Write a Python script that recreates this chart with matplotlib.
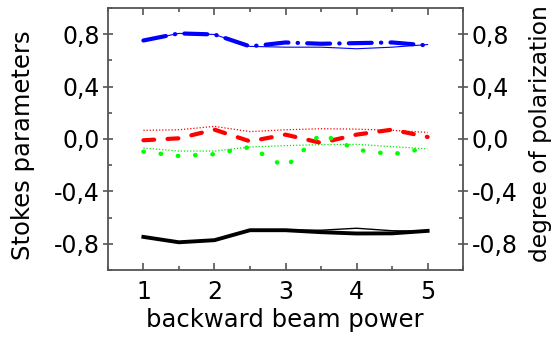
import matplotlib
matplotlib.use("Agg")
import matplotlib.pyplot as plt
from matplotlib.ticker import MultipleLocator, FuncFormatter

plt.rcParams['font.family'] = ['DejaVu Sans']

power = [1, 1.5, 2, 2.5, 3, 3.5, 4, 4.5, 5]
s1 = [0.751, 0.805, 0.797, 0.706, 0.736, 0.726, 0.731, 0.736, 0.713]
s1_thin = [0.751, 0.805, 0.797, 0.706, 0.700, 0.700, 0.688, 0.700, 0.720]
s2 = [-0.010, 0.005, 0.071, -0.018, 0.033, -0.030, 0.033, 0.071, 0.015]
s2_thin = [0.066, 0.070, 0.096, 0.056, 0.070, 0.078, 0.075, 0.066, 0.050]
s3 = [-0.097, -0.130, -0.116, -0.061, -0.215, 0.040, -0.082, -0.117, -0.069]
s3_thin = [-0.069, -0.092, -0.092, -0.061, -0.051, -0.043, -0.041, -0.058, -0.076]
s0 = [-0.747, -0.788, -0.772, -0.696, -0.696, -0.711, -0.721, -0.720, -0.701]
s0_thin = [-0.747, -0.788, -0.772, -0.696, -0.696, -0.696, -0.681, -0.700, -0.704]

FS = 17
FL = 17.5

fig = plt.figure(figsize=(5.56, 3.41), dpi=100)
ax = fig.add_axes([0.194, 0.208, 0.639, 0.769])

# thin lines
ax.plot(power, s1_thin, color='#0000ff', lw=0.8)
ax.plot(power, s2_thin, color='#ff0000', lw=0.9, ls=(0, (1, 1.5)))
ax.plot(power, s3_thin, color='#00ee00', lw=0.9, ls=(0, (1, 1.5)))
ax.plot(power, s0_thin, color='black', lw=1.0)

# thick lines
l, = ax.plot(power, s1, color='#0000ff', lw=3.0, dash_capstyle='round')
l.set_dashes((5.5, 2.2, 0.1, 2.2))
l, = ax.plot(power, s2, color='#ff0000', lw=3.0, dash_capstyle='round')
l.set_dashes((2.6, 3.2))
l, = ax.plot(power, s3, color='#00ff00', lw=3.2, dash_capstyle='round')
l.set_dashes((0.1, 3.8))
ax.plot(power, s0, color='black', lw=2.8, solid_joinstyle='round')

ax.set_xlim(0.5, 5.5)
ax.set_ylim(-1.0, 1.0)
ax.xaxis.set_major_locator(MultipleLocator(1))
ax.xaxis.set_minor_locator(MultipleLocator(0.5))
ax.yaxis.set_minor_locator(MultipleLocator(0.2))
ax.set_yticks([-0.8, -0.4, 0.0, 0.4, 0.8])
fmt = FuncFormatter(lambda v, p: ('%.1f' % v).replace('.', ',').replace('-0,0', '0,0'))
ax.yaxis.set_major_formatter(fmt)

spine_color = '#555555'
for s in ax.spines.values():
    s.set_color(spine_color)
    s.set_linewidth(1.3)

ax.tick_params(axis='x', which='major', direction='in', length=5, width=1.2,
               color=spine_color, top=True, labelsize=FS, pad=7)
ax.tick_params(axis='x', which='minor', direction='in', length=3, width=1.2,
               color=spine_color, top=True)
ax.tick_params(axis='y', which='major', direction='inout', length=7, width=1.2,
               color=spine_color, left=True, right=True, labelleft=True,
               labelright=True, labelsize=FS, pad=2.5)
ax.tick_params(axis='y', which='minor', direction='in', length=3, width=1.2,
               color=spine_color, left=True, right=True)

fig.text(0.513, 1 - 320 / 341, 'backward beam power', fontsize=FL,
         ha='center', va='center')
fig.text(23 / 556, 1 - 145.5 / 341, 'Stokes parameters', rotation=90, fontsize=FL,
         ha='center', va='center')
fig.text(541 / 556, 1 - 134 / 341, 'degree of polarization', rotation=90, fontsize=16.8,
         ha='center', va='center')

fig.savefig('out.png', dpi=100)
